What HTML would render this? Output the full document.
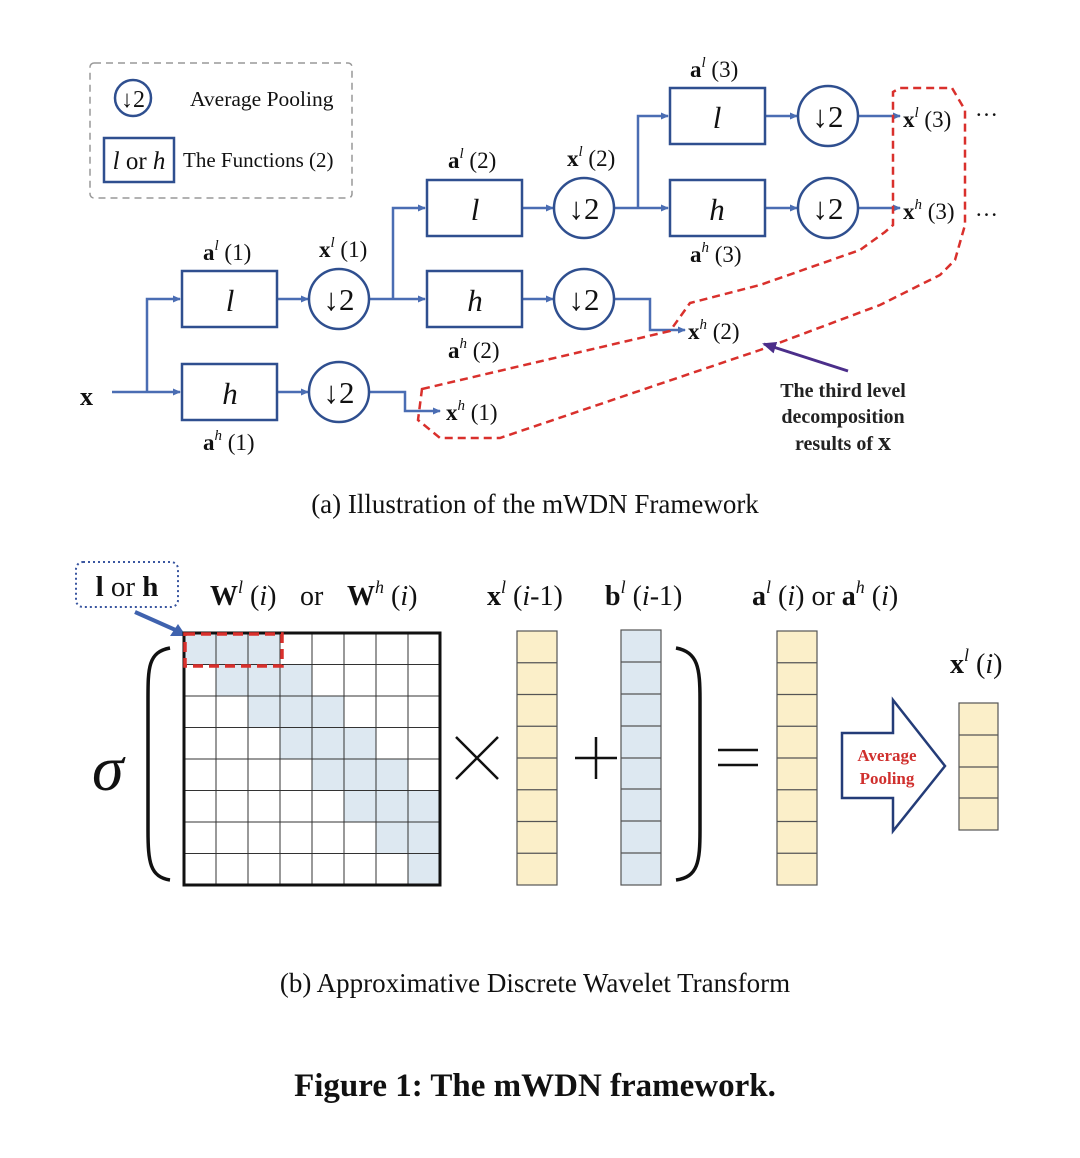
<!DOCTYPE html>
<html><head><meta charset="utf-8"><style>
html,body{margin:0;padding:0;background:#fff;}
svg{display:block;}
text{font-family:"Liberation Serif",serif;}
</style></head><body>
<svg width="1080" height="1158" viewBox="0 0 1080 1158" xmlns="http://www.w3.org/2000/svg" fill="#111">
<defs>
<marker id="ar" markerWidth="8" markerHeight="8" refX="7" refY="4" orient="auto" markerUnits="userSpaceOnUse"><path d="M0,0.5 L8,4 L0,7.5 Z" fill="#4a6db3"/></marker>
<marker id="pa" markerWidth="14" markerHeight="12" refX="12" refY="6" orient="auto" markerUnits="userSpaceOnUse"><path d="M0,0 L14,6 L0,12 Z" fill="#4b2e8a"/></marker>
</defs>

<!-- legend -->
<rect x="90" y="63" width="262" height="135" rx="4" fill="none" stroke="#999" stroke-width="1.5" stroke-dasharray="7,5"/>
<circle cx="133" cy="98" r="18" fill="none" stroke="#2f4f8f" stroke-width="2.5"/>
<text x="133" y="107" font-size="24" text-anchor="middle">↓2</text>
<text x="190" y="106" font-size="21.5">Average Pooling</text>
<rect x="104" y="138" width="70" height="44" fill="none" stroke="#2f4f8f" stroke-width="2.5"/>
<text x="139" y="169" font-size="25" text-anchor="middle"><tspan font-style="italic">l</tspan> or <tspan font-style="italic">h</tspan></text>
<text x="183" y="167" font-size="21">The Functions (2)</text>

<g fill="none" stroke="#4a6db3" stroke-width="2.5">
<path d="M112,392 H180" marker-end="url(#ar)"/>
<path d="M147,392 V299 H180" marker-end="url(#ar)"/>
<path d="M277,299 H308" marker-end="url(#ar)"/>
<path d="M277,392 H308" marker-end="url(#ar)"/>
<path d="M370,299 H425" marker-end="url(#ar)"/>
<path d="M393,299 V208 H425" marker-end="url(#ar)"/>
<path d="M370,392 H405 V411 H440" marker-end="url(#ar)"/>
<path d="M522,208 H553" marker-end="url(#ar)"/>
<path d="M522,299 H553" marker-end="url(#ar)"/>
<path d="M615,208 H668" marker-end="url(#ar)"/>
<path d="M638,208 V116 H668" marker-end="url(#ar)"/>
<path d="M615,299 H650 V330 H685" marker-end="url(#ar)"/>
<path d="M765,116 H797" marker-end="url(#ar)"/>
<path d="M765,208 H797" marker-end="url(#ar)"/>
<path d="M859,116 H900" marker-end="url(#ar)"/>
<path d="M859,208 H900" marker-end="url(#ar)"/>
</g>

<g fill="#fff" stroke="#2f4f8f" stroke-width="2.5">
<rect x="182" y="271" width="95" height="56"/>
<rect x="182" y="364" width="95" height="56"/>
<rect x="427" y="180" width="95" height="56"/>
<rect x="427" y="271" width="95" height="56"/>
<rect x="670" y="88" width="95" height="56"/>
<rect x="670" y="180" width="95" height="56"/>
<circle cx="339" cy="299" r="30"/>
<circle cx="339" cy="392" r="30"/>
<circle cx="584" cy="208" r="30"/>
<circle cx="584" cy="299" r="30"/>
<circle cx="828" cy="116" r="30"/>
<circle cx="828" cy="208" r="30"/>
</g>
<g font-size="31" font-style="italic" text-anchor="middle">
<text x="230" y="311">l</text><text x="230" y="404">h</text>
<text x="475" y="220">l</text><text x="475" y="311">h</text>
<text x="717" y="128">l</text><text x="717" y="220">h</text>
</g>
<g font-size="31" text-anchor="middle">
<text x="339" y="310">↓2</text><text x="339" y="403">↓2</text>
<text x="584" y="219">↓2</text><text x="584" y="310">↓2</text>
<text x="828" y="127">↓2</text><text x="828" y="219">↓2</text>
</g>

<g font-size="23">
<text x="80" y="405" font-weight="bold" font-size="26">x</text>
<text x="203" y="260"><tspan font-weight="bold">a</tspan><tspan font-style="italic" font-size="15" dy="-10">l</tspan><tspan dy="10"> (1)</tspan></text>
<text x="319" y="257"><tspan font-weight="bold">x</tspan><tspan font-style="italic" font-size="15" dy="-10">l</tspan><tspan dy="10"> (1)</tspan></text>
<text x="203" y="450"><tspan font-weight="bold">a</tspan><tspan font-style="italic" font-size="15" dy="-10">h</tspan><tspan dy="10"> (1)</tspan></text>
<text x="448" y="168"><tspan font-weight="bold">a</tspan><tspan font-style="italic" font-size="15" dy="-10">l</tspan><tspan dy="10"> (2)</tspan></text>
<text x="567" y="166"><tspan font-weight="bold">x</tspan><tspan font-style="italic" font-size="15" dy="-10">l</tspan><tspan dy="10"> (2)</tspan></text>
<text x="448" y="358"><tspan font-weight="bold">a</tspan><tspan font-style="italic" font-size="15" dy="-10">h</tspan><tspan dy="10"> (2)</tspan></text>
<text x="690" y="77"><tspan font-weight="bold">a</tspan><tspan font-style="italic" font-size="15" dy="-10">l</tspan><tspan dy="10"> (3)</tspan></text>
<text x="690" y="262"><tspan font-weight="bold">a</tspan><tspan font-style="italic" font-size="15" dy="-10">h</tspan><tspan dy="10"> (3)</tspan></text>
<text x="903" y="127"><tspan font-weight="bold">x</tspan><tspan font-style="italic" font-size="15" dy="-10">l</tspan><tspan dy="10"> (3)</tspan></text>
<text x="903" y="219"><tspan font-weight="bold">x</tspan><tspan font-style="italic" font-size="15" dy="-10">h</tspan><tspan dy="10"> (3)</tspan></text>
<text x="975" y="116">…</text><text x="975" y="216">…</text>
<text x="688" y="339"><tspan font-weight="bold">x</tspan><tspan font-style="italic" font-size="15" dy="-10">h</tspan><tspan dy="10"> (2)</tspan></text>
<text x="446" y="420"><tspan font-weight="bold">x</tspan><tspan font-style="italic" font-size="15" dy="-10">h</tspan><tspan dy="10"> (1)</tspan></text>
</g>

<path d="M422,389 L670,331 L690,303 L760,285 L860,250 L885,232 L893,225 L893,92 L900,88 L952,88 L965,110 L965,225 L955,260 L940,275 L880,305 L760,350 L500,438 L440,438 L418,420 Z" fill="none" stroke="#d9302c" stroke-width="2.5" stroke-dasharray="8,5"/>
<path d="M848,371 L764,344" stroke="#4b2e8a" stroke-width="3" marker-end="url(#pa)"/>
<g font-size="20" font-weight="bold" text-anchor="middle" fill="#222">
<text x="843" y="397">The third level</text>
<text x="843" y="423">decomposition</text>
<text x="843" y="450">results of <tspan font-size="26">x</tspan></text>
</g>

<text x="535" y="513" font-size="27" text-anchor="middle">(a)  Illustration of the mWDN Framework</text>

<!-- part b -->
<rect x="76" y="562" width="102" height="45" rx="7" fill="none" stroke="#3a56a0" stroke-width="2" stroke-dasharray="2,3"/>
<text x="127" y="596" font-size="29" text-anchor="middle" font-weight="bold">l <tspan font-weight="normal">or</tspan> h</text>
<path d="M135,612 L180,632" stroke="#3f62ae" stroke-width="4"/>
<path d="M186,636 L170,636 L178,624 Z" fill="#3f62ae"/>

<g font-size="28">
<text x="210" y="605"><tspan font-weight="bold">W</tspan><tspan font-style="italic" font-size="18" dy="-12">l</tspan><tspan dy="12"> (</tspan><tspan font-style="italic">i</tspan>)</text>
<text x="300" y="605">or</text>
<text x="347" y="605"><tspan font-weight="bold">W</tspan><tspan font-style="italic" font-size="18" dy="-12">h</tspan><tspan dy="12"> (</tspan><tspan font-style="italic">i</tspan>)</text>
<text x="487" y="605"><tspan font-weight="bold">x</tspan><tspan font-style="italic" font-size="18" dy="-12">l</tspan><tspan dy="12"> (</tspan><tspan font-style="italic">i</tspan>-1)</text>
<text x="605" y="605"><tspan font-weight="bold">b</tspan><tspan font-style="italic" font-size="18" dy="-12">l</tspan><tspan dy="12"> (</tspan><tspan font-style="italic">i</tspan>-1)</text>
<text x="752" y="605"><tspan font-weight="bold">a</tspan><tspan font-style="italic" font-size="18" dy="-12">l</tspan><tspan dy="12"> (</tspan><tspan font-style="italic">i</tspan>) or <tspan font-weight="bold">a</tspan><tspan font-style="italic" font-size="18" dy="-12">h</tspan><tspan dy="12"> (</tspan><tspan font-style="italic">i</tspan>)</text>
<text x="950" y="673"><tspan font-weight="bold">x</tspan><tspan font-style="italic" font-size="18" dy="-12">l</tspan><tspan dy="12"> (</tspan><tspan font-style="italic">i</tspan>)</text>
</g>

<text x="92" y="790" font-size="64" font-style="italic">σ</text>
<path d="M170,648 C148,652 148,668 148,700 L148,830 C148,862 150,877 170,880" fill="none" stroke="#111" stroke-width="3.5"/>
<path d="M676,648 C698,652 700,668 700,700 L700,830 C700,862 698,877 676,880" fill="none" stroke="#111" stroke-width="3.5"/>

<g fill="#dde8f1">
<rect x="184" y="633" width="96" height="31.5"/>
<rect x="216" y="664.5" width="96" height="31.5"/>
<rect x="248" y="696" width="96" height="31.5"/>
<rect x="280" y="727.5" width="96" height="31.5"/>
<rect x="312" y="759" width="96" height="31.5"/>
<rect x="344" y="790.5" width="96" height="31.5"/>
<rect x="376" y="822" width="64" height="31.5"/>
<rect x="408" y="853.5" width="32" height="31.5"/>
</g>
<g stroke="#333" stroke-width="1">
<path d="M216,633V885M248,633V885M280,633V885M312,633V885M344,633V885M376,633V885M408,633V885"/>
<path d="M184,664.5H440M184,696H440M184,727.5H440M184,759H440M184,790.5H440M184,822H440M184,853.5H440"/>
</g>
<rect x="184" y="633" width="256" height="252" fill="none" stroke="#111" stroke-width="3"/>
<rect x="185" y="634" width="97" height="32" fill="none" stroke="#d9302c" stroke-width="3.5" stroke-dasharray="10,6"/>

<path d="M456,737 L498,779 M498,737 L456,779" stroke="#111" stroke-width="2.5"/>
<path d="M575,758 H617 M596,737 V779" stroke="#111" stroke-width="2.5"/>
<path d="M718,750 H758 M718,765 H758" stroke="#111" stroke-width="2.5"/>

<g stroke="#555" stroke-width="1.2">
<rect x="517" y="631" width="40" height="254" fill="#fbefc9"/>
<path d="M517,662.75H557M517,694.5H557M517,726.25H557M517,758H557M517,789.75H557M517,821.5H557M517,853.25H557"/>
<rect x="621" y="630" width="40" height="255" fill="#dde8f1"/>
<path d="M621,662H661M621,694H661M621,726H661M621,758H661M621,789H661M621,821H661M621,853H661"/>
<rect x="777" y="631" width="40" height="254" fill="#fbefc9"/>
<path d="M777,662.75H817M777,694.5H817M777,726.25H817M777,758H817M777,789.75H817M777,821.5H817M777,853.25H817"/>
<rect x="959" y="703" width="39" height="127" fill="#fbefc9"/>
<path d="M959,735H998M959,767H998M959,798H998"/>
</g>

<path d="M842,733 L893,733 L893,700 L945,766 L893,831 L893,798 L842,798 Z" fill="#fff" stroke="#243c78" stroke-width="2.5"/>
<g font-size="17" font-weight="bold" text-anchor="middle">
<text x="887" y="761" style="fill:#d0302e">Average</text>
<text x="887" y="784" style="fill:#d0302e">Pooling</text>
</g>

<text x="535" y="992" font-size="27" text-anchor="middle">(b)  Approximative Discrete Wavelet Transform</text>
<text x="535" y="1096" font-size="33" font-weight="bold" text-anchor="middle">Figure 1: The mWDN framework.</text>
</svg>
</body></html>
